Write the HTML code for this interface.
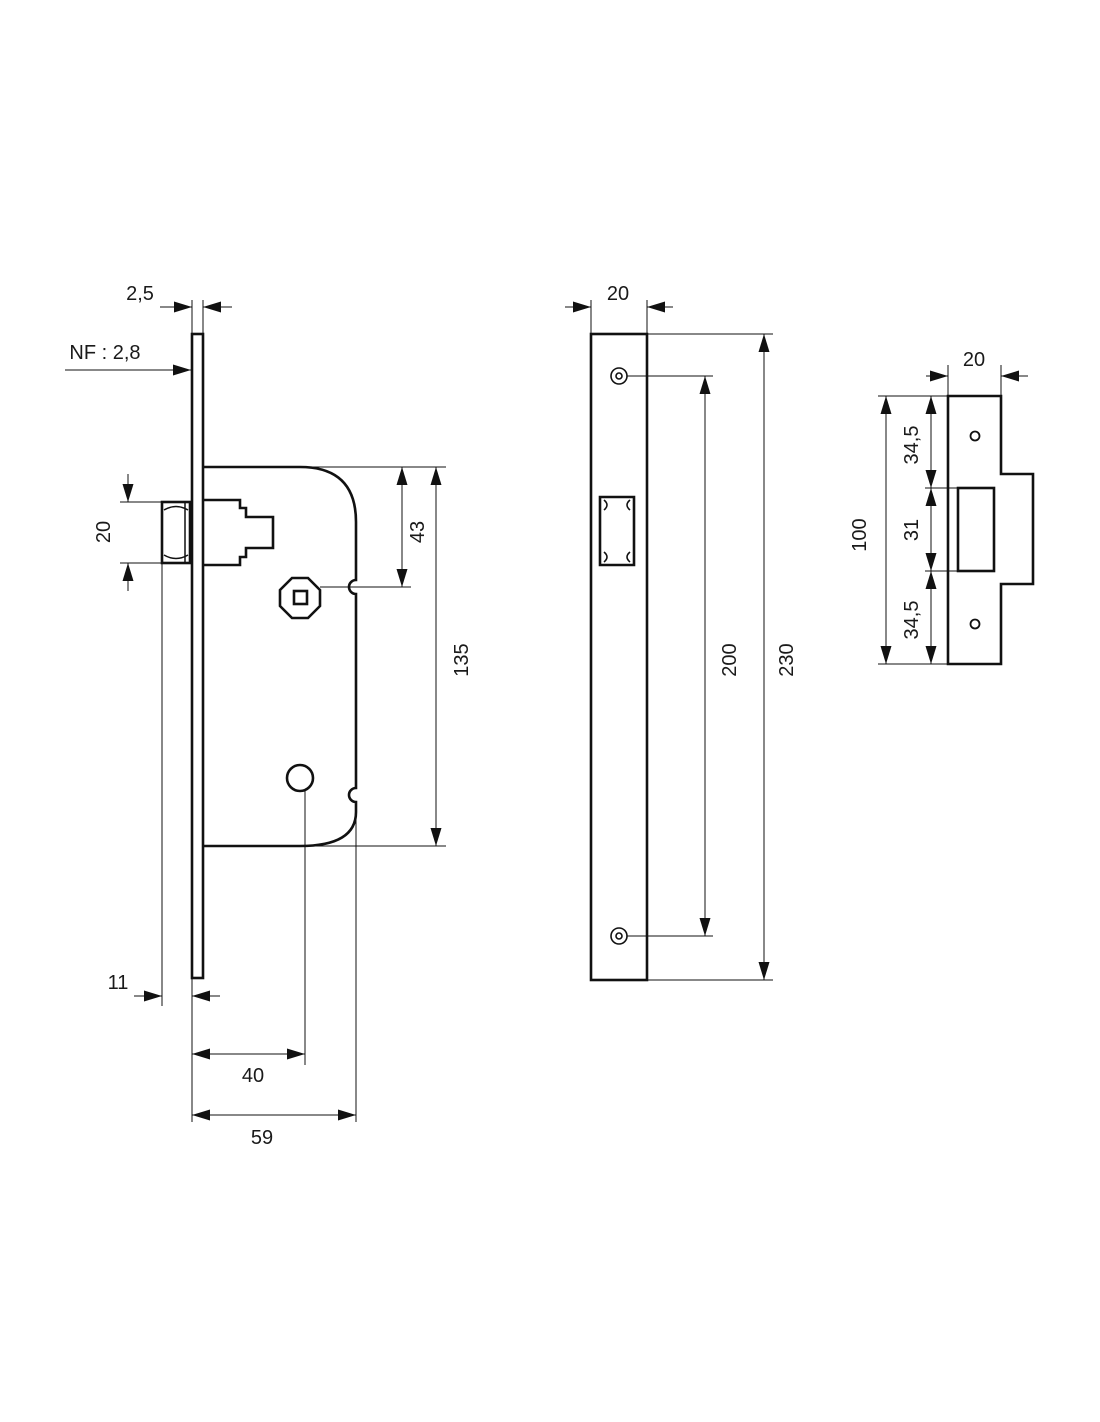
<!DOCTYPE html>
<html><head><meta charset="utf-8"><style>
html,body{margin:0;padding:0;background:#fff}
svg{display:block}
text{font-family:"Liberation Sans",sans-serif;font-size:20px;fill:#1a1a1a}
</style></head><body>
<svg width="1100" height="1422" viewBox="0 0 1100 1422" xmlns="http://www.w3.org/2000/svg">
<defs>
<marker id="a" markerUnits="userSpaceOnUse" markerWidth="20" markerHeight="12" refX="18" refY="5.5" orient="auto-start-reverse"><path d="M0,0 L18,5.5 L0,11 z" fill="#111"/></marker>
</defs>
<g fill="none" stroke="#111">
<g stroke-width="2.6">
<rect x="192" y="334" width="11" height="644"/>
<path d="M203,467 H300 Q356,467 356,522 V580 A7,7 0 0 0 356,594 V788 A7,7 0 0 0 356,802 V812 Q356,846 300,846 H203"/>
<rect x="162" y="502" width="28" height="61"/>
<path d="M203,500 H240 V508 H246 V517 H273 V548 H246 V557 H240 V565 H203"/>
<polygon points="292,578 308,578 320,590 320,606 308,618 292,618 280,606 280,590"/>
<rect x="294" y="591" width="13" height="13"/>
<circle cx="300" cy="778" r="13"/>
</g>
<path d="M185,502 V563 M164,510 Q176,503 188,510 M164,555 Q176,562 188,555" stroke-width="1.5"/>
<g stroke-width="1">
<path d="M192,300 V334 M203,300 V334"/>
<line x1="160" y1="307" x2="192" y2="307" marker-end="url(#a)"/>
<line x1="232" y1="307" x2="203" y2="307" marker-end="url(#a)"/>
<line x1="65" y1="370" x2="191" y2="370" marker-end="url(#a)"/>
<path d="M120,502 H162 M120,563 H162"/>
<line x1="128" y1="474" x2="128" y2="502" marker-end="url(#a)"/>
<line x1="128" y1="591" x2="128" y2="563" marker-end="url(#a)"/>
<path d="M300,467 H446 M320,587 H411 M300,846 H446"/>
<line x1="402" y1="467" x2="402" y2="587" marker-start="url(#a)" marker-end="url(#a)"/>
<line x1="436" y1="467" x2="436" y2="846" marker-start="url(#a)" marker-end="url(#a)"/>
<path d="M162,563 V1006 M192,978 V1122 M305,790 V1065 M356,812 V1122"/>
<line x1="134" y1="996" x2="162" y2="996" marker-end="url(#a)"/>
<line x1="220" y1="996" x2="192" y2="996" marker-end="url(#a)"/>
<line x1="192" y1="1054" x2="305" y2="1054" marker-start="url(#a)" marker-end="url(#a)"/>
<line x1="192" y1="1115" x2="356" y2="1115" marker-start="url(#a)" marker-end="url(#a)"/>
</g>
<g stroke-width="2.6">
<rect x="591" y="334" width="56" height="646"/>
<path d="M600,497 H634 V565 H600 Z"/>
</g>
<g stroke-width="1.6">
<circle cx="619" cy="376" r="8"/><circle cx="619" cy="376" r="3"/>
<circle cx="619" cy="936" r="8"/><circle cx="619" cy="936" r="3"/>
<path d="M604,500 Q610,505 604,510 M630,500 Q624,505 630,510 M604,552 Q610,557 604,562 M630,552 Q624,557 630,562"/>
</g>
<g stroke-width="1">
<path d="M591,300 V334 M647,300 V334"/>
<line x1="565" y1="307" x2="591" y2="307" marker-end="url(#a)"/>
<line x1="673" y1="307" x2="647" y2="307" marker-end="url(#a)"/>
<path d="M627,376 H713 M627,936 H713 M647,334 H773 M647,980 H773"/>
<line x1="705" y1="376" x2="705" y2="936" marker-start="url(#a)" marker-end="url(#a)"/>
<line x1="764" y1="334" x2="764" y2="980" marker-start="url(#a)" marker-end="url(#a)"/>
</g>
<g stroke-width="2.6">
<path d="M948,396 H1001 V474 H1033 V584 H1001 V664 H948 Z"/>
<rect x="958" y="488" width="36" height="83"/>
</g>
<g stroke-width="1.8"><circle cx="975" cy="436" r="4.5"/><circle cx="975" cy="624" r="4.5"/></g>
<g stroke-width="1">
<path d="M948,365 V396 M1001,365 V396"/>
<line x1="926" y1="376" x2="948" y2="376" marker-end="url(#a)"/>
<line x1="1028" y1="376" x2="1001" y2="376" marker-end="url(#a)"/>
<path d="M878,396 H948 M878,664 H948 M925,488 H958 M925,571 H958"/>
<line x1="886" y1="396" x2="886" y2="664" marker-start="url(#a)" marker-end="url(#a)"/>
<line x1="931" y1="396" x2="931" y2="488" marker-start="url(#a)" marker-end="url(#a)"/>
<line x1="931" y1="488" x2="931" y2="571" marker-start="url(#a)" marker-end="url(#a)"/>
<line x1="931" y1="571" x2="931" y2="664" marker-start="url(#a)" marker-end="url(#a)"/>
</g>
</g>
<text x="140" y="300" text-anchor="middle">2,5</text>
<text x="105" y="359" text-anchor="middle">NF : 2,8</text>
<text transform="translate(110,532) rotate(-90)" text-anchor="middle">20</text>
<text transform="translate(424,532) rotate(-90)" text-anchor="middle">43</text>
<text transform="translate(468,660) rotate(-90)" text-anchor="middle">135</text>
<text x="118" y="989" text-anchor="middle">11</text>
<text x="253" y="1082" text-anchor="middle">40</text>
<text x="262" y="1144" text-anchor="middle">59</text>
<text x="618" y="300" text-anchor="middle">20</text>
<text transform="translate(736,660) rotate(-90)" text-anchor="middle">200</text>
<text transform="translate(793,660) rotate(-90)" text-anchor="middle">230</text>
<text x="974" y="366" text-anchor="middle">20</text>
<text transform="translate(866,535) rotate(-90)" text-anchor="middle">100</text>
<text transform="translate(918,445) rotate(-90)" text-anchor="middle">34,5</text>
<text transform="translate(918,530) rotate(-90)" text-anchor="middle">31</text>
<text transform="translate(918,620) rotate(-90)" text-anchor="middle">34,5</text>
</svg>
</body></html>
